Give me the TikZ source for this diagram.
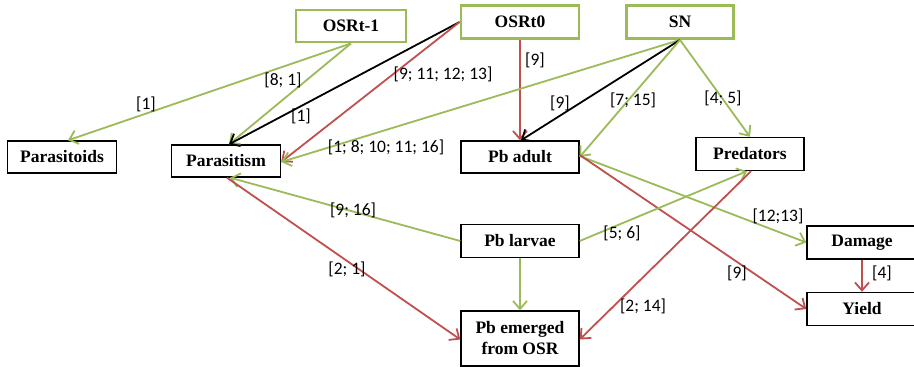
\documentclass[tikz,border=0pt]{standalone}
\usepackage{fontspec}
\setmainfont{Liberation Serif}
\newfontfamily\labfont{Carlito}
\usetikzlibrary{arrows.meta}
\definecolor{ogreen}{HTML}{9BBB59}
\definecolor{ored}{HTML}{C0504D}
\begin{document}
\begin{tikzpicture}[x=1pt,y=-1pt,
  box/.style={draw=black,line width=1.4pt,fill=white,inner sep=0pt,align=center,
    font=\fontsize{17.5}{21}\selectfont\bfseries},
  gbox/.style={box,draw=ogreen,line width=2.8pt},
  lab/.style={inner sep=0pt,font=\labfont\fontsize{17.5}{19}\selectfont},
  arr/.style={line width=1.8pt,-{Straight Barb[length=8pt,width=14pt,line width=1.8pt]}},
  ga/.style={arr,draw=ogreen},
  ra/.style={arr,draw=ored},
  ba/.style={arr,draw=black}]
\useasboundingbox (0,0) rectangle (914,367);
% nodes
\node[gbox,minimum width=110pt,minimum height=32pt] (osrm) at (351,26) {OSRt-1};
\node[gbox,minimum width=118pt,minimum height=33pt] (osr0) at (520,22) {OSRt0};
\node[gbox,minimum width=107pt,minimum height=33pt] (sn) at (680,22) {SN};
\node[box,minimum width=109pt,minimum height=32pt] (ptoids) at (62,157) {Parasitoids};
\node[box,minimum width=109pt,minimum height=32pt] (pism) at (226,161) {Parasitism};
\node[box,minimum width=118pt,minimum height=32pt] (padult) at (520,157) {Pb adult};
\node[box,minimum width=108pt,minimum height=33pt] (pred) at (750,154) {Predators};
\node[box,minimum width=118pt,minimum height=33pt] (plarv) at (520,241) {Pb larvae};
\node[box,minimum width=118pt,minimum height=55pt] (pemer) at (520,338.5) {Pb emerged\\from OSR};
\node[box,minimum width=110pt,minimum height=33pt] (dam) at (862,242.5) {Damage};
\node[box,minimum width=110pt,minimum height=33pt] (yield) at (862,309) {Yield};
% connectors
\draw[ga] (osrm.south) -- ([xshift=6pt]ptoids.north);
\draw[ga] (osrm.south) -- ([xshift=3pt]pism.north);
\draw[ba] (osr0.west) -- ([xshift=3pt]pism.north);
\draw[ra] (osr0.west) -- ([yshift=-1pt]pism.east);
\draw[ra] (osr0.south) -- (padult.north);
\draw[ga] (sn.south) -- ([yshift=-1pt]pism.east);
\draw[ba] (sn.south) -- ([xshift=1pt]padult.north);
\draw[ga] (sn.south) -- (padult.east);
\draw[ga] (sn.south) -- (pred.north);
\draw[ga] ([yshift=1pt]padult.east) -- (dam.west);
\draw[ra] ([yshift=2pt]padult.east) -- (yield.west);
\draw[ga] (plarv.east) -- ([xshift=-3pt]pred.south);
\draw[ra] ([xshift=1pt]pred.south) -- ([yshift=-1pt]pemer.east);
\draw[ga] (plarv.west) -- ([xshift=4pt]pism.south);
\draw[ra] ([xshift=1pt]pism.south) -- ([yshift=-1pt]pemer.west);
\draw[ga] (plarv.south) -- (pemer.north);
\draw[ra] (dam.south) -- (yield.north);
% labels
\node[lab] (l1) at (146,104) {[1]};
\node[lab] (l2) at (283,80) {[8; 1]};
\node[lab] (l3) at (301,116) {[1]};
\node[lab] (l4) at (443,74) {[9; 11; 12; 13]};
\node[lab] (l5) at (386,147) {[1; 8; 10; 11; 16]};
\node[lab] (l6) at (535,60) {[9]};
\node[lab] (l7) at (560,103) {[9]};
\node[lab] (l8) at (633,100) {[7; 15]};
\node[lab] (l9) at (723,98) {[4; 5]};
\node[lab] (l10) at (778,216) {[12;13]};
\node[lab] (l11) at (737,273) {[9]};
\node[lab] (l12) at (622,233) {[5; 6]};
\node[lab] (l13) at (643,306) {[2; 14]};
\node[lab] (l14) at (353,210) {[9; 16]};
\node[lab] (l15) at (347,269) {[2; 1]};
\node[lab] (l16) at (882,273) {[4]};
\end{tikzpicture}
\end{document}
